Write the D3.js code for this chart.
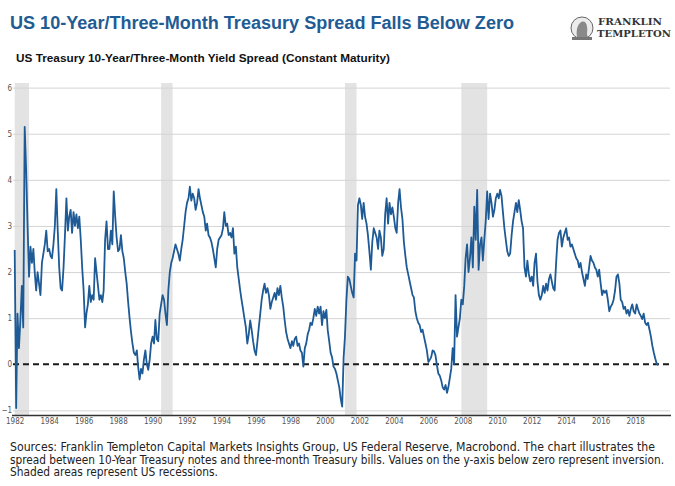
<!DOCTYPE html>
<html>
<head>
<meta charset="utf-8">
<script src="https://cdn.jsdelivr.net/npm/d3@7"></script>
<style>
  body { margin: 0; background: #fff; }
  svg { display: block; }
</style>
</head>
<body>
<div id="chart-area"></div>
<script>
// monthly spread values (10y minus 3m, in %), first value = Jan 1982
var spread1980s = [
  2.48, -0.95, 1.1, 0.35, 0.95, 1.7, 0.8, 5.15, 4.2, 3.0, 1.9, 2.55,
  2.2, 2.5, 2.0, 1.6, 2.0, 1.75, 1.5, 2.2, 2.4, 2.6, 2.9, 2.45,
  2.5, 2.35, 2.3, 2.6, 3.0, 3.8, 2.9, 2.1, 1.65, 1.6, 2.1, 2.8,
  3.6, 2.9, 3.2, 3.35, 2.85, 3.3, 3.0, 3.25, 2.95, 3.2, 2.7, 2.1,
  1.6, 0.8, 1.1, 1.3, 1.7, 1.35, 1.5, 1.4, 2.3, 2.0, 1.7, 1.4,
  1.5, 1.35, 1.6, 2.7, 3.1, 2.5, 2.5, 2.9, 2.6, 3.75, 3.2, 2.75,
  2.45, 2.5, 2.8, 2.45, 2.3, 2.0, 1.75, 1.35, 1.0, 0.7, 0.45, 0.25,
  0.2, 0.3, -0.05, -0.33, -0.1, -0.2, 0.1, 0.3, 0.0, -0.12, 0.1, 0.45
];
var spread1990s = [
  0.6, 0.45, 0.96, 0.55, 0.5, 1.1, 1.3, 1.5, 1.4, 1.1, 0.85, 1.6,
  2.0, 2.2, 2.3, 2.45, 2.6, 2.5, 2.4, 2.25, 2.5, 2.7, 3.0, 3.3,
  3.5, 3.6, 3.85, 3.55, 3.7, 3.6, 3.35, 3.5, 3.8, 3.6, 3.45, 3.3,
  3.2, 2.9, 3.05, 2.8, 2.75, 2.65, 2.5, 2.3, 2.1, 2.5, 2.7, 2.75,
  2.8, 2.95, 3.3, 3.0, 3.05, 2.8, 2.85, 2.75, 2.95, 2.4, 2.55, 2.1,
  1.85, 1.6, 1.4, 1.2, 1.0, 0.8, 0.45, 0.65, 0.95, 0.75, 0.5, 0.3,
  0.2, 0.5, 0.8, 1.1, 1.4, 1.6, 1.75, 1.55, 1.65, 1.5, 1.2, 1.35,
  1.45, 1.55, 1.4, 1.65, 1.5, 1.7, 1.45, 1.25, 0.95, 0.7, 0.55, 0.45,
  0.35, 0.5, 0.4, 0.55, 0.6, 0.4, 0.45, 0.3, 0.25, -0.05, 0.35, 0.45,
  0.65, 0.75, 0.9, 0.85, 1.0, 1.2, 1.05, 1.25, 1.1, 1.25, 0.85, 1.15
];
var spread2000s = [
  1.0, 1.18, 0.74, 0.5, 0.25, 0.15, -0.05, -0.1, -0.2, -0.35, -0.5, -0.75,
  -0.92, 0.15, 0.6, 1.4, 1.9, 1.85, 1.7, 1.55, 1.45, 2.4, 2.25, 3.45,
  3.6, 3.45, 3.15, 3.5, 3.2, 3.05, 2.8, 2.45, 2.05, 2.65, 2.95, 2.85,
  2.75, 2.5, 2.9, 2.75, 2.35, 2.5, 3.25, 3.6, 3.05, 3.5, 3.25, 3.4,
  3.2, 2.95, 2.85, 3.5, 3.8, 3.4, 3.15, 2.65, 2.35, 2.1, 1.95, 1.8,
  1.65, 1.5, 1.45, 1.15, 1.0, 0.9, 0.85, 0.7, 0.75, 0.6, 0.45, 0.3,
  0.05, 0.1, 0.15, 0.3, 0.28, 0.2, -0.02, -0.2, -0.25, -0.35, -0.5, -0.55,
  -0.45, -0.62, -0.5, -0.3, -0.1, 0.35, 0.0, 1.5, 0.6, 0.8, 1.0, 1.4,
  1.3, 1.7, 2.3, 2.6, 2.0, 2.3, 2.75, 2.1, 3.42, 2.7, 3.78, 2.05,
  2.6, 2.75, 2.25, 2.7, 3.1, 3.75, 3.15, 3.7, 3.5, 3.2, 3.35, 3.6
];
var spread2010s = [
  3.7, 3.6, 3.78, 3.65, 3.3, 2.95, 2.7, 2.45, 2.35, 2.4, 2.8, 3.1,
  3.3, 3.5, 3.3, 3.56, 3.35, 3.1, 2.95, 2.1, 1.9, 2.25, 1.95, 1.8,
  1.9, 1.7, 2.2, 2.4, 1.8, 1.5, 1.4, 1.5, 1.7, 1.55, 1.75, 1.6,
  1.85, 1.95, 1.8, 1.65, 1.6, 2.2, 2.7, 2.85, 2.9, 2.55, 2.75, 2.85,
  2.95, 2.7, 2.75, 2.55, 2.6, 2.5, 2.4, 2.3, 2.25, 2.1, 2.2, 2.0,
  1.85, 1.7, 1.95, 1.85, 2.1, 2.35, 2.25, 2.2, 2.1, 2.05, 1.9, 2.05,
  1.75, 1.5, 1.6, 1.55, 1.6, 1.4, 1.15, 1.25, 1.3, 1.4, 1.6, 1.9,
  1.95, 1.75, 1.4, 1.35, 1.2, 1.25, 1.1, 1.18, 1.05, 1.2, 1.3, 1.15,
  1.1, 1.3, 1.2, 1.1, 1.05, 0.98, 1.1, 0.9, 0.85, 0.9, 0.75, 0.6,
  0.4, 0.25, 0.13, 0.02, -0.02
];

// US recessions [start, end] as "YYYY-MM"
var recessions = [["1981-07", "1982-11"], ["1990-07", "1991-03"], ["2001-03", "2001-11"], ["2007-12", "2009-06"]];

var yTicks = [-1, 0, 1, 2, 3, 4, 5, 6];
var xTickYears = [1982, 1984, 1986, 1988, 1990, 1992, 1994, 1996, 1998, 2000, 2002, 2004, 2006, 2008, 2010, 2012, 2014, 2016, 2018];

var titleText = "US 10-Year/Three-Month Treasury Spread Falls Below Zero";
var subtitleText = "US Treasury 10-Year/Three-Month Yield Spread (Constant Maturity)";
var footnoteLines = [
  "Sources: Franklin Templeton Capital Markets Insights Group, US Federal Reserve, Macrobond. The chart illustrates the",
  "spread between 10-Year Treasury notes and three-month Treasury bills. Values on the y-axis below zero represent inversion.",
  "Shaded areas represent US recessions."
];

var w = 675, h = 486;
var plot = {left: 13, right: 670, top: 83, bottom: 415};
var narrow = "'Liberation Sans Narrow','Arial Narrow','DejaVu Sans Condensed',Arial,sans-serif";

var svg = d3.select("#chart-area").append("svg")
  .attr("width", w)
  .attr("height", h);

var parseMonth = d3.timeParse("%Y-%m");

var data = spread1980s.concat(spread1990s, spread2000s, spread2010s).map(function(v, i) {
  return {date: new Date(1982, i, 1), value: v};
});

var x = d3.scaleTime()
  .domain([new Date(1982, 0, 1), new Date(2020, 0, 1)])
  .range([14.7, 669.6]);

var y = d3.scaleLinear()
  .domain([-1.1, 6.1])
  .range([plot.bottom, plot.top]);

// recession bands
svg.append("g").selectAll("rect")
  .data(recessions)
  .enter().append("rect")
    .attr("x", function(d) { return Math.max(x(parseMonth(d[0])), x.range()[0]); })
    .attr("width", function(d) { return x(parseMonth(d[1])) - Math.max(x(parseMonth(d[0])), x.range()[0]); })
    .attr("y", plot.top)
    .attr("height", plot.bottom - plot.top)
    .attr("fill", "#e3e3e3");

// y axis + gridlines
var yAxis = d3.axisLeft(y)
  .tickValues(yTicks)
  .tickSizeInner(-(plot.right - plot.left))
  .tickSizeOuter(0)
  .tickPadding(1)
  .tickFormat(d3.format("d"));

var yGroup = svg.append("g")
  .attr("transform", "translate(" + plot.left + ",0)")
  .call(yAxis);
yGroup.select(".domain").remove();
yGroup.selectAll("line").attr("stroke", "#d4d4d4").attr("stroke-width", 1);
yGroup.selectAll("line").filter(function(d) { return d === 0; }).remove();
yGroup.selectAll("text")
  .attr("fill", "#555")
  .attr("font-size", "8px")
  .attr("font-family", narrow);

// zero line
svg.append("line")
  .attr("x1", plot.left)
  .attr("x2", plot.right + 2)
  .attr("y1", y(0))
  .attr("y2", y(0))
  .attr("stroke", "#1a1a1a")
  .attr("stroke-width", 2)
  .attr("stroke-dasharray", "6,4");

// x axis
var xAxis = d3.axisBottom(x)
  .tickValues(xTickYears.map(function(yr) { return new Date(yr, 0, 1); }))
  .tickFormat(d3.timeFormat("%Y"))
  .tickSize(0)
  .tickPadding(3);

var xGroup = svg.append("g")
  .attr("transform", "translate(0," + plot.bottom + ")")
  .call(xAxis);
xGroup.select(".domain").remove();
xGroup.selectAll("text")
  .attr("fill", "#555")
  .attr("font-size", "8px")
  .attr("font-family", narrow);

svg.append("line")
  .attr("x1", plot.left - 1)
  .attr("x2", plot.right + 1)
  .attr("y1", plot.bottom + 0.5)
  .attr("y2", plot.bottom + 0.5)
  .attr("stroke", "#333")
  .attr("stroke-width", 1.6);

// spread line
var line = d3.line()
  .x(function(d) { return x(d.date); })
  .y(function(d) { return y(d.value); });

svg.append("path")
  .datum(data)
  .attr("fill", "none")
  .attr("stroke", "#1d5a96")
  .attr("stroke-width", 1.8)
  .attr("stroke-linejoin", "round")
  .attr("d", line);

// titles
svg.append("text")
  .attr("x", 10)
  .attr("y", 29)
  .attr("font-family", "'Liberation Sans',Arial,sans-serif")
  .attr("font-weight", "bold")
  .attr("font-size", "18px")
  .attr("fill", "#1f5c94")
  .attr("textLength", 504)
  .attr("lengthAdjust", "spacingAndGlyphs")
  .text(titleText);

svg.append("text")
  .attr("x", 16)
  .attr("y", 62)
  .attr("font-family", "'Liberation Sans',Arial,sans-serif")
  .attr("font-weight", "bold")
  .attr("font-size", "11px")
  .attr("fill", "#111")
  .attr("textLength", 374)
  .attr("lengthAdjust", "spacingAndGlyphs")
  .text(subtitleText);

// logo
var logo = svg.append("g").attr("transform", "translate(582,28)");
logo.append("circle").attr("r", 11).attr("fill", "#ececec").attr("stroke", "#666").attr("stroke-width", 1);
logo.append("path")
  .attr("d", "M-5,9 C-6,3 -5,-2 -2,-5 C1,-8 5,-6 5,-1 C6,3 4,6 6,9 Z")
  .attr("fill", "#8a8a8a");
logo.append("rect").attr("x", -10).attr("y", 9).attr("width", 20).attr("height", 3).attr("fill", "#777");

svg.append("text")
  .attr("x", 598)
  .attr("y", 25)
  .attr("font-family", "'DejaVu Serif','Liberation Serif',serif")
  .attr("font-weight", "bold")
  .attr("font-size", "10px")
  .attr("fill", "#333")
  .attr("textLength", 64)
  .attr("lengthAdjust", "spacingAndGlyphs")
  .text("FRANKLIN");

svg.append("text")
  .attr("x", 597)
  .attr("y", 37)
  .attr("font-family", "'DejaVu Serif','Liberation Serif',serif")
  .attr("font-weight", "bold")
  .attr("font-size", "10px")
  .attr("fill", "#333")
  .attr("textLength", 74)
  .attr("lengthAdjust", "spacingAndGlyphs")
  .text("TEMPLETON");

// footnote
var footLengths = [645, 654, 208];
svg.append("g").selectAll("text")
  .data(footnoteLines)
  .enter().append("text")
    .attr("x", 10)
    .attr("y", function(d, i) { return 451 + i * 12.5; })
    .attr("font-family", narrow)
    .attr("font-size", "11.5px")
    .attr("fill", "#222")
    .attr("textLength", function(d, i) { return footLengths[i]; })
    .attr("lengthAdjust", "spacingAndGlyphs")
    .text(function(d) { return d; });
</script>
</body>
</html>
